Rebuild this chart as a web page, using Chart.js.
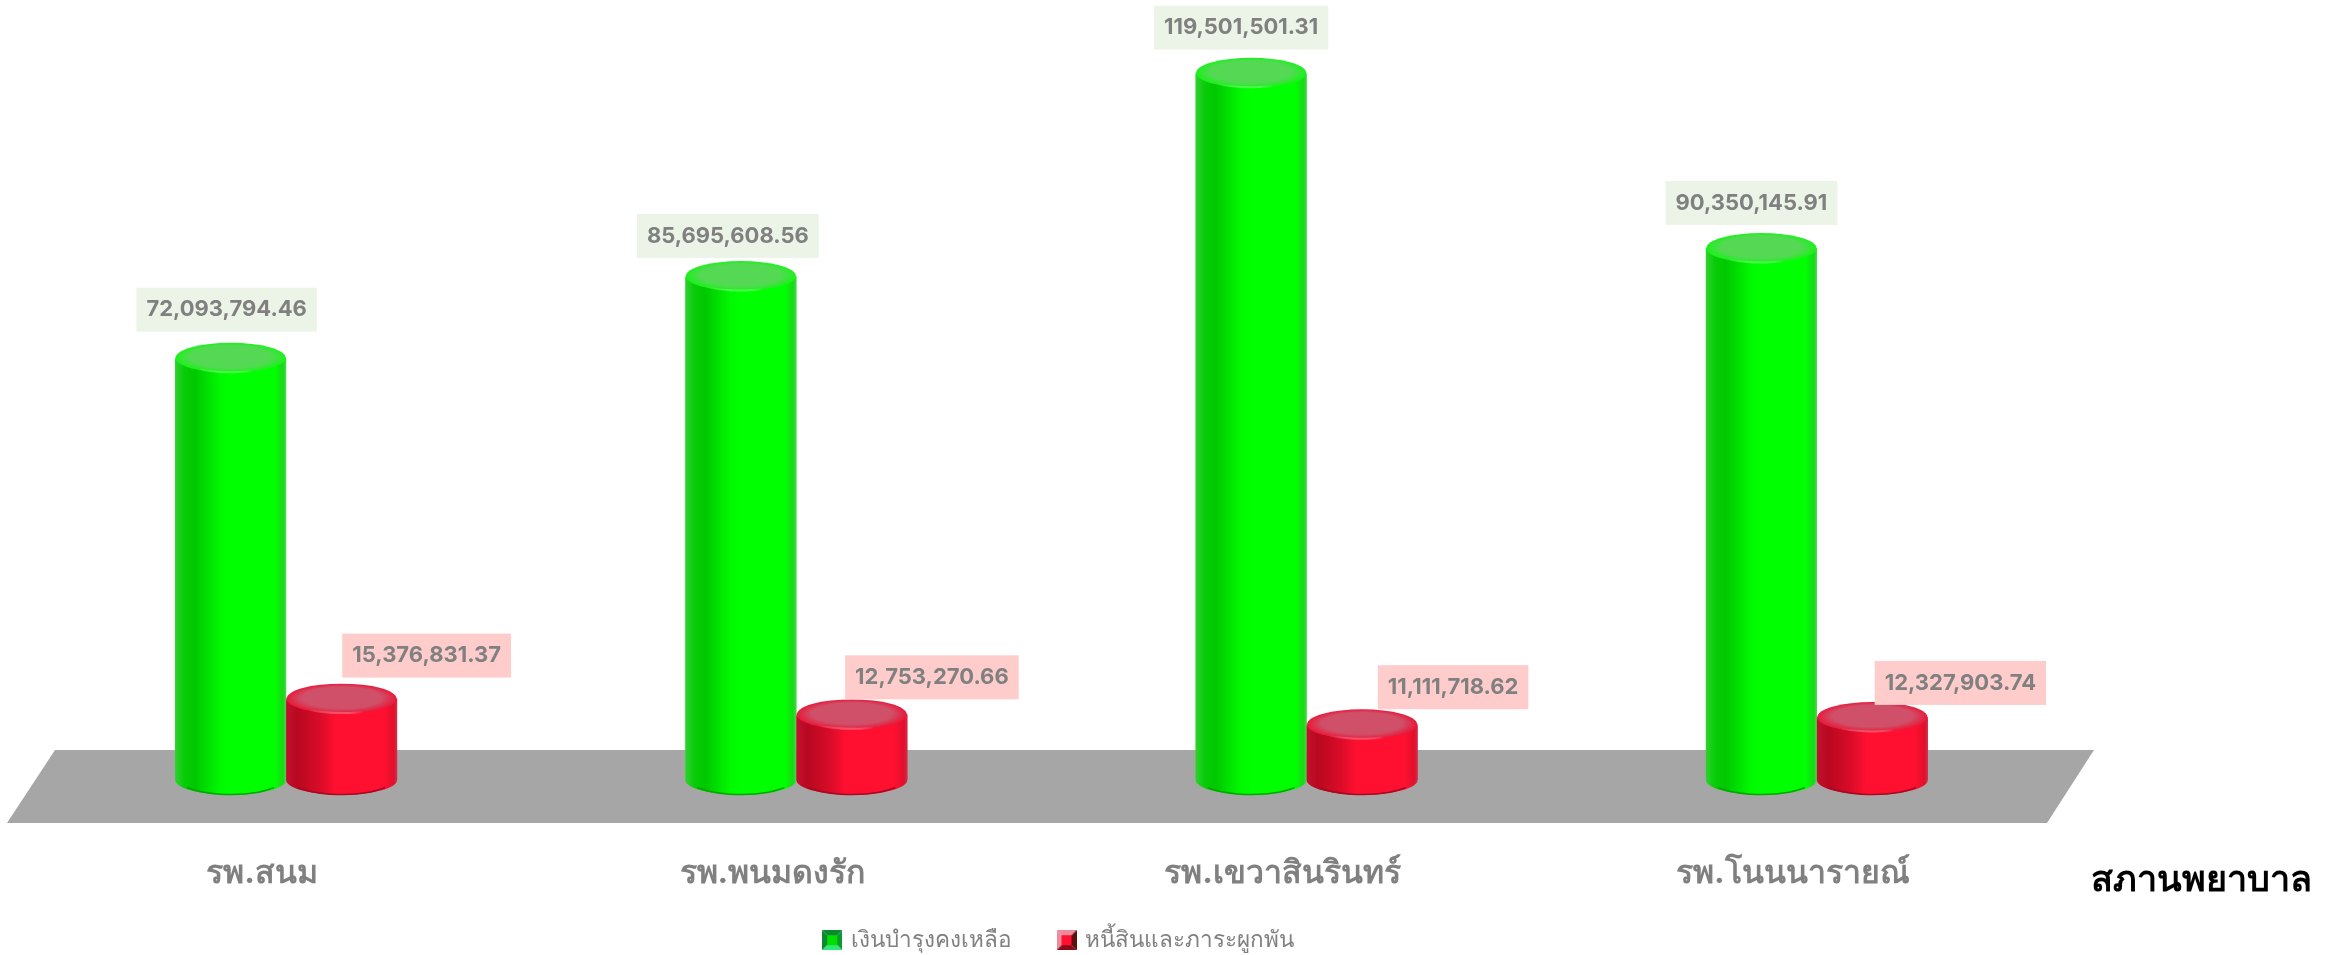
<!DOCTYPE html>
<html><head><meta charset="utf-8">
<style>html,body{margin:0;padding:0;background:#fff}canvas{display:block}</style>
<script src="https://cdn.jsdelivr.net/npm/chart.js@4"></script>
</head><body><canvas id="c" width="2329" height="955"></canvas>
<script>
const categories = ["รพ.สนม", "รพ.พนมดงรัก", "รพ.เขวาสินรินทร์", "รพ.โนนนารายณ์"];
const remaining = [72093794.46, 85695608.56, 119501501.31, 90350145.91];
const debts = [15376831.37, 12753270.66, 11111718.62, 12327903.74];
const seriesNames = ["เงินบำรุงคงเหลือ", "หนี้สินและภาระผูกพัน"];
const xTitle = "สภานพยาบาล";

const FONT = 'Inter, "Noto Sans", sans-serif';
const GREY = '#808080';
const RY = 15;
const Y_MIN = 1830000, Y_MAX = 131600000;
const styles = [
  {stops:[[0,'#30d030'],[0.08,'#08cc08'],[0.18,'#00c800'],[0.4,'#00f800'],[0.5,'#00ff00'],[0.9,'#00ff00'],[0.97,'#18d818'],[1,'#45d845']],
   cap:'#55d955', capEdge:'#1cf01c', rim:'#00a800', hi:'rgba(110,255,110,0.55)', box:'#ecf4e7', dx:[-4,-13,-10,-10], dy:[-3,5,0,0], gap:8},
  {stops:[[0,'#c41030'],[0.1,'#b80820'],[0.3,'#d80c28'],[0.45,'#ff1030'],[0.88,'#ff1030'],[0.97,'#e0102c'],[1,'#d03048']],
   cap:'#cf5068', capEdge:'#e8183a', rim:'#a80820', hi:'rgba(255,120,140,0.55)', box:'#ffcccc', dx:[85,80,91,88], dy:[0,6,6,9], gap:6}
];

function marker(tl, br, mid, core){
  const s=20, b=5, m=document.createElement('canvas'); m.width=s; m.height=s;
  const g=m.getContext('2d');
  const tri=(pts,col)=>{g.fillStyle=col;g.beginPath();pts.forEach((p,i)=>i?g.lineTo(p[0],p[1]):g.moveTo(p[0],p[1]));g.closePath();g.fill();};
  tri([[0,0],[s,0],[s-b,b],[b,b]],tl);
  tri([[0,0],[b,b],[b,s-b],[0,s]],tl);
  tri([[s,0],[s,s],[s-b,s-b],[s-b,b]],br);
  tri([[0,s],[s,s],[s-b,s-b],[b,s-b]],mid);
  g.fillStyle=core; g.fillRect(b,b,s-2*b,s-2*b);
  return m;
}
const markers=[marker('#0a8a30','#0a9a30','#30e878','#00e000'), marker('#f08a9a','#5a1010','#8a0a18','#ff1030')];

const LEGEND_PAD = 48, LEGEND_BOX = 50, LEGEND_CY = 942, LEGEND_SHIFT = 8, AXIS_BOX = 125;

const floorAndCylinders = {
  id:'floorAndCylinders',
  beforeLayout(chart){
    const lg=chart.legend;
    if(lg && !lg._pinned){
      lg._pinned=true;
      const f=lg.fit;
      lg.fit=function(){f.call(this); this.height=LEGEND_BOX;};
    }
  },
  afterLayout(chart){
    const lg=chart.legend;
    if(lg){
      lg.top=LEGEND_CY-13-LEGEND_PAD; lg.bottom=chart.height;
      lg.left+=LEGEND_SHIFT; lg.right+=LEGEND_SHIFT;
    }
  },
  beforeDatasetsDraw(chart){
    const {ctx,chartArea:a}=chart;
    const top=a.bottom-30, bot=a.bottom+43, sk=24;
    ctx.save();
    ctx.fillStyle='#a6a6a6';
    ctx.beginPath();
    ctx.moveTo(a.left+sk,top); ctx.lineTo(a.right+sk-2,top);
    ctx.lineTo(a.right-sk-1,bot); ctx.lineTo(a.left-sk,bot);
    ctx.closePath(); ctx.fill();
    ctx.restore();
  },
  afterDatasetsDraw(chart){
    const {ctx}=chart;
    ctx.save();
    chart.data.datasets.forEach((d,i)=>{
      const st=styles[i];
      chart.getDatasetMeta(i).data.forEach(el=>{
        const {x,y,base,width}=el.getProps(['x','y','base','width'],true);
        const rx=width/2,l=x-rx,r=x+rx;
        const g=ctx.createLinearGradient(l,0,r,0);
        st.stops.forEach(s=>g.addColorStop(s[0],s[1]));
        ctx.fillStyle=g;
        ctx.beginPath();
        ctx.moveTo(l,y); ctx.lineTo(l,base);
        ctx.ellipse(x,base,rx,RY,0,Math.PI,0,true);
        ctx.lineTo(r,y);
        ctx.ellipse(x,y,rx,RY,0,0,Math.PI,false);
        ctx.closePath(); ctx.fill();
        ctx.strokeStyle=st.rim; ctx.lineWidth=1.5;
        ctx.beginPath(); ctx.ellipse(x,base-0.5,rx-4,RY,0,Math.PI*0.82,Math.PI*0.18,true); ctx.stroke();
        ctx.save();
        ctx.translate(x,y); ctx.scale(1,RY/rx);
        const cg=ctx.createRadialGradient(0,-8,rx*0.3,0,0,rx);
        cg.addColorStop(0,st.cap); cg.addColorStop(0.6,st.cap); cg.addColorStop(1,st.capEdge);
        ctx.fillStyle=cg;
        ctx.beginPath(); ctx.arc(0,0,rx-0.5,0,Math.PI*2); ctx.fill();
        ctx.restore();
        const hg=ctx.createLinearGradient(l,0,r,0);
        hg.addColorStop(0.2,'rgba(255,255,255,0)'); hg.addColorStop(0.5,st.hi); hg.addColorStop(0.7,'rgba(255,255,255,0)');
        ctx.strokeStyle=hg; ctx.lineWidth=2;
        ctx.beginPath(); ctx.ellipse(x,y,rx-1,RY-0.5,0,Math.PI*0.2,Math.PI*0.8); ctx.stroke();
      });
    });
    ctx.restore();
  },
  afterDraw(chart){
    const {ctx}=chart;
    ctx.save();
    ctx.textAlign='center'; ctx.textBaseline='middle';
    ctx.font='bold 22px '+FONT;
    chart.data.datasets.forEach((d,i)=>{
      const st=styles[i];
      chart.getDatasetMeta(i).data.forEach((el,j)=>{
        const t=d.data[j].toLocaleString('en-US',{minimumFractionDigits:2,maximumFractionDigits:2});
        const w=ctx.measureText(t).width+20, h=44;
        const cx=el.x+st.dx[j], by=el.y-RY-st.gap+st.dy[j];
        ctx.fillStyle=st.box; ctx.fillRect(cx-w/2,by-h,w,h);
        ctx.fillStyle=GREY; ctx.fillText(t,cx,by-h/2);
      });
    });
    ctx.fillStyle='#000'; ctx.textAlign='center';
    ctx.font='bold 36px '+FONT;
    ctx.fillText(xTitle,2201,880);
    ctx.restore();
  }
};

new Chart(document.getElementById('c'),{
  type:'bar',
  data:{labels:categories,datasets:[
    {label:seriesNames[0],data:remaining,base:Y_MIN,backgroundColor:'#00ff00',pointStyle:markers[0],categoryPercentage:0.435,barPercentage:1},
    {label:seriesNames[1],data:debts,base:Y_MIN,backgroundColor:'#ff1030',pointStyle:markers[1],categoryPercentage:0.435,barPercentage:1}
  ]},
  plugins:[floorAndCylinders],
  options:{
    responsive:false,animation:false,devicePixelRatio:1,
    layout:{padding:{left:31,right:257,top:0,bottom:0}},
    scales:{
      x:{grid:{display:false,drawTicks:false},border:{display:false},
         afterFit(s){s.height=AXIS_BOX;},
         ticks:{color:GREY,font:{family:FONT,size:32,weight:'bold'},padding:74,labelOffset:-24,maxRotation:0}},
      y:{display:false,min:Y_MIN,max:Y_MAX}
    },
    plugins:{
      legend:{position:'bottom',fullSize:false,
        labels:{usePointStyle:true,boxWidth:14,boxHeight:20,padding:LEGEND_PAD,color:GREY,font:{family:FONT,size:22.5}}},
      tooltip:{enabled:false}
    }
  }
});
</script></body></html>
